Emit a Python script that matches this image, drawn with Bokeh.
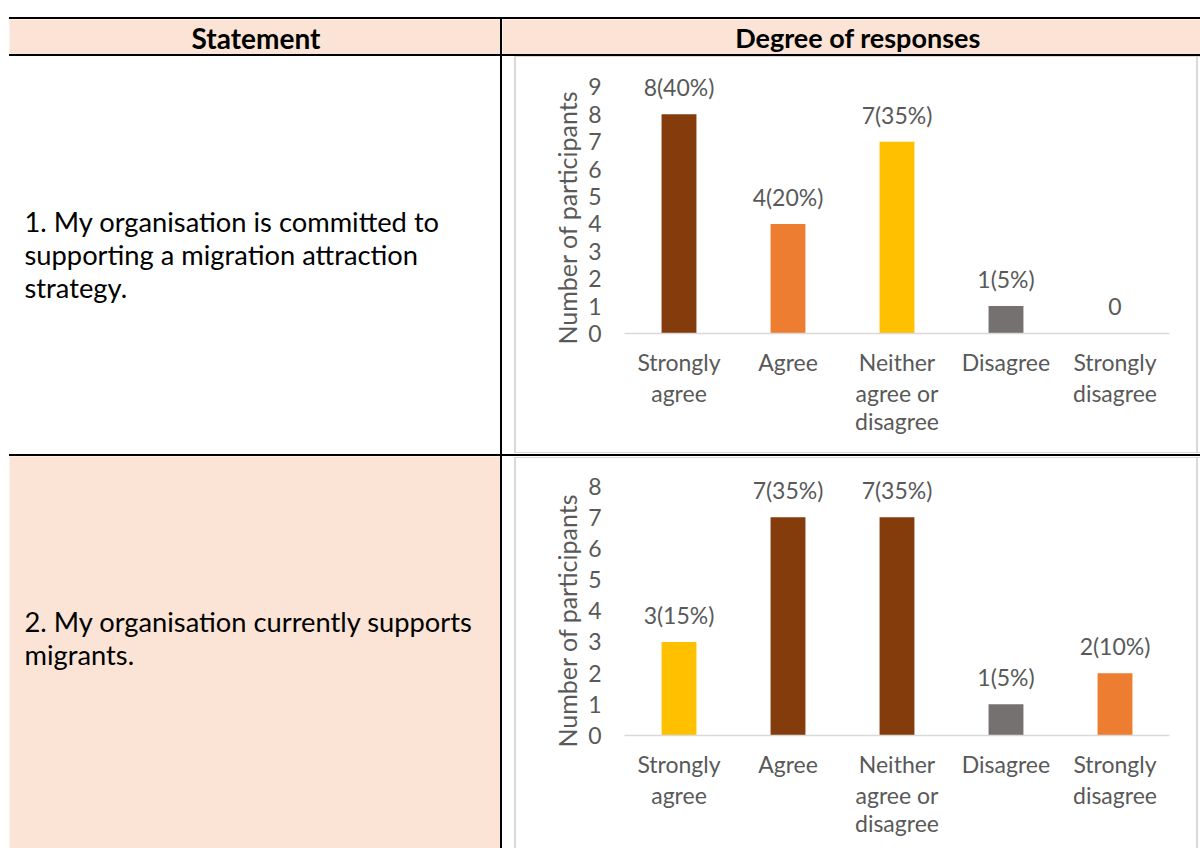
import json
from bokeh.plotting import figure
from bokeh.layouts import row, column
from bokeh.models import (ColumnDataSource, LabelSet, FixedTicker, Range1d, FactorRange,
                          CategoricalAxis, Title, Div, CustomJSTickFormatter)
from bokeh.core.properties import value
from bokeh.embed import file_html
from bokeh.resources import INLINE

# ---------------- data ----------------
header_labels = ["Statement", "Degree of responses"]
statement_1 = ["1. My organisation is committed to",
               "supporting a migration attraction",
               "strategy."]
statement_2 = ["2. My organisation currently supports",
               "migrants."]
categories = ["Strongly agree", "Agree", "Neither agree or disagree",
              "Disagree", "Strongly disagree"]
category_tick_labels = ["Strongly\nagree", "Agree", "Neither\nagree or\ndisagree",
                        "Disagree", "Strongly\ndisagree"]
counts_1 = [8, 4, 7, 1, 0]
labels_1 = ["8(40%)", "4(20%)", "7(35%)", "1(5%)", "0"]
counts_2 = [3, 7, 7, 1, 2]
labels_2 = ["3(15%)", "7(35%)", "7(35%)", "1(5%)", "2(10%)"]
y_ticks_1 = [0, 1, 2, 3, 4, 5, 6, 7, 8, 9]
y_ticks_2 = [0, 1, 2, 3, 4, 5, 6, 7, 8]
y_axis_title = "Number of participants"

# ---------------- styles ----------------
BROWN, ORANGE, GOLD, GREY = "#843C0C", "#ED7D31", "#FFC000", "#767171"
colors_1 = [BROWN, ORANGE, GOLD, GREY, ORANGE]
colors_2 = [GOLD, BROWN, BROWN, GREY, ORANGE]
PEACH = "#FBE4D5"
BOXGREY = "#D9D9D9"
TXT = "#595959"
FONT = "Lato"


def block(w, h, color):
    return Div(text="", width=w, height=h, margin=0,
               styles={"background-color": color, "padding": "0", "overflow": "hidden"})


def text_cell(w, h, fill):
    c = figure(width=w, height=h, toolbar_location=None, output_backend="svg",
               min_border=0, x_axis_location=None, y_axis_location=None,
               x_range=Range1d(0, w), y_range=Range1d(h, 0))
    c.background_fill_color = fill
    c.border_fill_color = fill
    c.outline_line_color = None
    c.grid.visible = False
    return c


def statement_cell(lines, fill, h):
    c = text_cell(491, h, fill)
    c.text(x=[15] * len(lines), y=[165 + 33 * i for i in range(len(lines))], text=lines,
           text_font=value(FONT), text_font_size="27.3px", text_color="black",
           text_align="left", text_baseline="alphabetic")
    return c


def chart(h, counts, labels, colors, yticks, ymax, top, bottom, title_offset):
    src = ColumnDataSource(dict(cat=categories, val=counts, lab=labels, col=colors))
    p = figure(width=680, height=h, toolbar_location=None, output_backend="svg",
               x_range=FactorRange(factors=categories, range_padding=0),
               y_range=Range1d(0, ymax),
               min_border_left=108, min_border_right=27,
               min_border_top=top, min_border_bottom=bottom)
    p.vbar(x="cat", top="val", width=0.32, fill_color="col", line_color=None, source=src)
    p.add_layout(LabelSet(x="cat", y="val", text="lab", source=src,
                          text_align="center", text_baseline="middle", y_offset=27,
                          text_font=value(FONT), text_font_size="23px", text_color=TXT))
    p.background_fill_color = "white"
    p.border_fill_color = "white"
    p.outline_line_color = None
    p.grid.visible = False

    ya = p.yaxis[0]
    ya.ticker = FixedTicker(ticks=yticks)
    ya.axis_line_color = None
    ya.major_tick_line_color = None
    ya.minor_tick_line_color = None
    ya.major_tick_out = 0
    ya.major_tick_in = 0
    ya.major_label_standoff = 23
    ya.major_label_text_font = FONT
    ya.major_label_text_font_size = "23px"
    ya.major_label_text_color = TXT

    p.add_layout(Title(text=y_axis_title, align="left", offset=title_offset, standoff=8,
                       text_font=FONT, text_font_size="25px", text_font_style="normal",
                       text_color=TXT), "left")

    lines = [lab.split("\n") for lab in category_tick_labels]
    standoffs = [14, 0, -3]
    for k in range(3):
        mapping = {cat: (ln[k] if k < len(ln) else "") for cat, ln in zip(categories, lines)}
        fmt = CustomJSTickFormatter(code="const m = %s; return (tick in m) ? m[tick] : '';"
                                    % json.dumps(mapping))
        if k == 0:
            xa = p.xaxis[0]
            xa.axis_line_color = BOXGREY
            xa.axis_line_width = 1.5
        else:
            xa = CategoricalAxis()
            xa.axis_line_color = None
            p.add_layout(xa, "below")
        xa.formatter = fmt
        xa.major_tick_line_color = None
        xa.major_tick_out = 0
        xa.major_tick_in = 0
        xa.major_label_standoff = standoffs[k]
        xa.major_label_text_font = FONT
        xa.major_label_text_font_size = "23px"
        xa.major_label_text_color = TXT
    return p


# ---------------- header ----------------
head_left = text_cell(491, 35, PEACH)
head_left.text(x=[246.5], y=[18], text=[header_labels[0]], text_font=value(FONT),
               text_font_size="28px", text_font_style="bold", text_color="black",
               text_align="center", text_baseline="middle")
head_right = text_cell(698, 35, PEACH)
head_right.text(x=[355.5], y=[18], text=[header_labels[1]], text_font=value(FONT),
                text_font_size="27px", text_font_style="bold", text_color="black",
                text_align="center", text_baseline="middle")
header = column(block(1200, 17, "white"),
                row(block(9, 2, "white"), block(1191, 2, "black")),
                row(block(9, 35, "white"), head_left, block(2, 35, "black"), head_right),
                row(block(9, 2, "white"), block(1191, 2, "black")))

# ---------------- row 1 ----------------
chart_1 = chart(395, counts_1, labels_1, colors_1, y_ticks_1, 9.6, 13, 119, -11)
row_1 = row(block(9, 398, "white"), statement_cell(statement_1, "white", 398),
            block(2, 398, "black"), block(12, 398, "white"),
            column(block(686, 1, BOXGREY),
                   row(block(2, 395, BOXGREY), chart_1, block(2, 395, BOXGREY),
                       block(2, 395, "white")),
                   block(686, 1, BOXGREY), block(686, 1, "white")))

divider = row(block(9, 2, "white"), block(1191, 2, "black"))

# ---------------- row 2 ----------------
chart_2 = chart(390, counts_2, labels_2, colors_2, y_ticks_2, 8.5, 12, 113, -12)
row_2 = row(block(9, 392, "white"), statement_cell(statement_2, PEACH, 392),
            block(2, 392, "black"), block(12, 392, "white"),
            column(block(686, 1, "white"), block(686, 1, BOXGREY),
                   row(block(2, 390, BOXGREY), chart_2, block(2, 390, BOXGREY),
                       block(2, 390, "white"))))

page = column(header, row_1, divider, row_2)

open("out.html", "w").write(file_html(page, INLINE))
